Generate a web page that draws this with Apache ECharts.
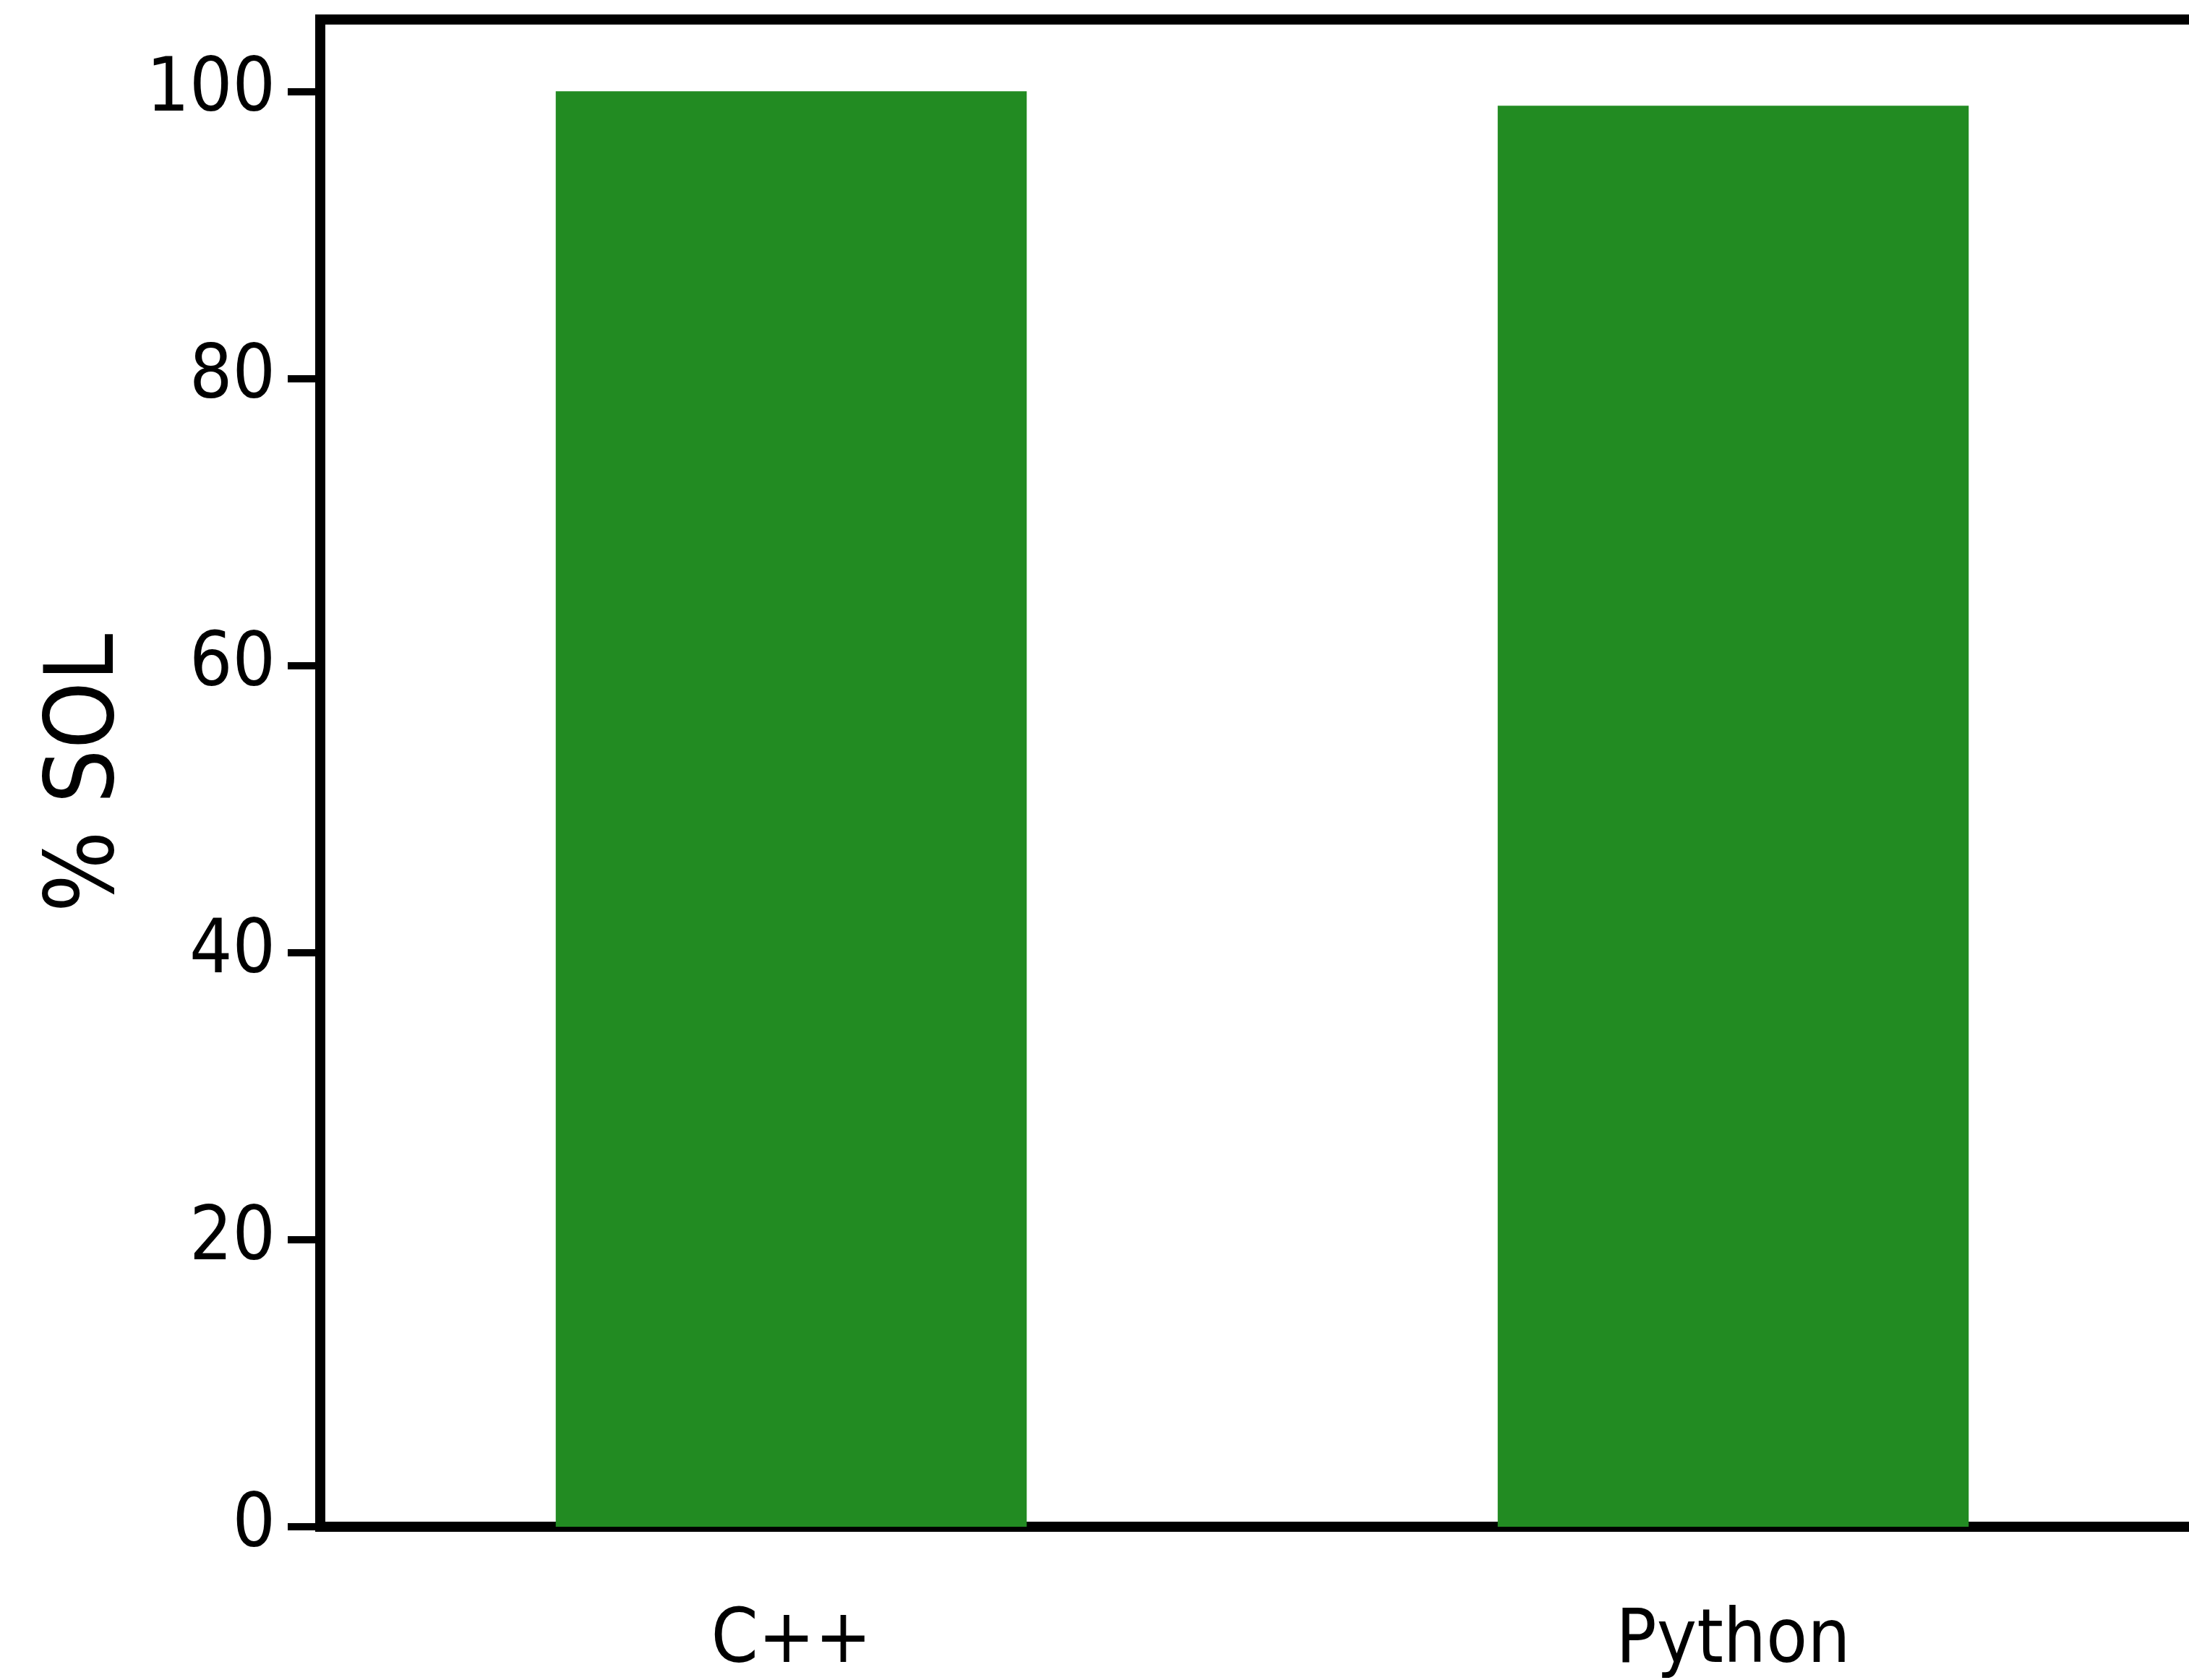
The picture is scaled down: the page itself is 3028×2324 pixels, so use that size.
<!DOCTYPE html>
<html>
<head>
<meta charset="utf-8">
<script src="https://cdn.jsdelivr.net/npm/echarts@6/dist/echarts.min.js"></script>
<style>
  html, body { margin: 0; padding: 0; background: #fff; overflow: hidden; }
  /* the frame runs past the right edge of the picture, so the chart is a bit wider than the window */
  #main { width: 3070px; height: 2324px; }
</style>
</head>
<body>
<div id="main"></div>
<script>
// data
var categories = ["C++", "Python"];
var solValues = [100, 99.0];
var yTicks = [0, 20, 40, 60, 80, 100];

var font = "'Liberation Sans Narrow', 'DejaVu Sans Condensed', sans-serif";

var myChart = echarts.init(document.getElementById("main"));
var option = {
  animation: false,
  backgroundColor: "#fff",
  grid: {
    left: 443,
    top: 27,
    bottom: 2324 - 2114,
    right: 21,
    show: true,
    borderColor: "#000",
    borderWidth: 14,
    containLabel: false
  },
  xAxis: {
    type: "category",
    data: categories,
    axisLine: { lineStyle: { color: "#000", width: 14 } },
    axisTick: { alignWithLabel: true, length: 45, lineStyle: { color: "#000", width: 10 } },
    axisLabel: { color: "#000", fontSize: 104, fontFamily: font, margin: 108 }
  },
  yAxis: {
    type: "value",
    min: 0,
    max: 105,
    name: "% SOL",
    nameLocation: "middle",
    nameGap: 255,
    nameTextStyle: { color: "#000", fontSize: 132, fontFamily: font },
    splitLine: { show: false },
    axisLine: { show: true, lineStyle: { color: "#000", width: 14 } },
    axisTick: { show: true, length: 45, customValues: yTicks, lineStyle: { color: "#000", width: 10 } },
    axisLabel: { color: "#000", fontSize: 104, fontFamily: font, margin: 62, customValues: yTicks }
  },
  series: [
    {
      type: "bar",
      data: solValues,
      barWidth: "50%",
      itemStyle: { color: "#228B22" }
    }
  ]
};
myChart.setOption(option);
</script>
</body>
</html>
